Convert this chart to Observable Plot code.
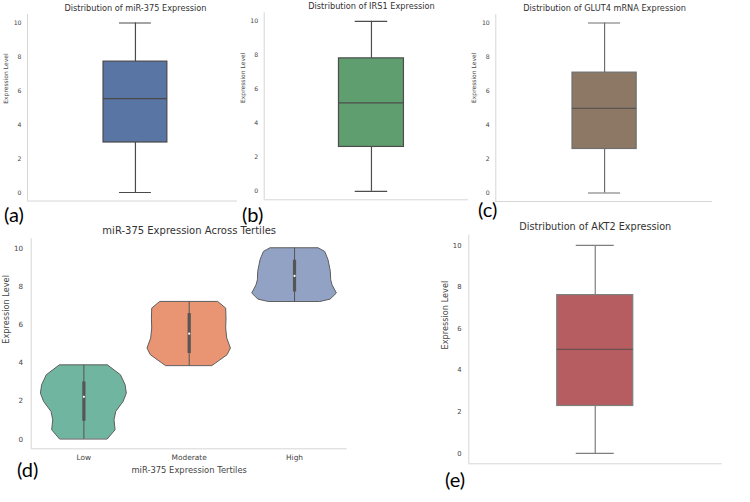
<!DOCTYPE html>
<html>
<head>
<meta charset="utf-8">
<script src="https://cdn.jsdelivr.net/npm/d3@7"></script>
<script src="https://cdn.jsdelivr.net/npm/@observablehq/plot@0.6"></script>
<style>
  body { margin: 0; background: #fff; }
  #fig { position: relative; width: 750px; height: 502px; overflow: hidden; background: #fff; font-family: "DejaVu Sans", sans-serif; }
  .panel { position: absolute; }
  .tag { position: absolute; font-family: Lato, "Open Sans", sans-serif; font-size: 20px; line-height: 20px; color: #000; white-space: nowrap; }
</style>
</head>
<body>
<div id="fig"></div>
<script>
// ---------------- data ----------------
const boxTitles = [
  "Distribution of miR-375 Expression",
  "Distribution of IRS1 Expression",
  "Distribution of GLUT4 mRNA Expression",
  "Distribution of AKT2 Expression"
];
const boxMin    = [0, 0, 0, 0];
const boxQ1     = [2.95, 2.61, 2.59, 2.28];
const boxMedian = [5.54, 5.20, 4.98, 5.00];
const boxQ3     = [7.72, 7.82, 7.08, 7.61];
const boxMax    = [10, 10, 10, 10];
const yTicks = [0, 2, 4, 6, 8, 10];
const yLabel = "Expression Level";

const violinTitle = "miR-375 Expression Across Tertiles";
const violinXLabel = "miR-375 Expression Tertiles";
const tertiles = ["Low", "Moderate", "High"];
// violin outline: expression level and half-width (density, in category units)
const lowLevels   = [0, 0.47, 0.99, 1.43, 1.95, 2.39, 2.83, 3.35, 3.87];
const lowDensity  = [0.228, 0.301, 0.291, 0.307, 0.377, 0.408, 0.396, 0.352, 0.228];
const modLevels   = [3.84, 3.96, 4.40, 4.75, 5.27, 5.80, 6.32, 6.84, 7.19];
const modDensity  = [0.222, 0.253, 0.364, 0.396, 0.361, 0.351, 0.354, 0.351, 0.275];
const highLevels  = [7.19, 7.31, 7.63, 8.06, 8.32, 8.76, 9.37, 9.81, 10.0];
const highDensity = [0.247, 0.342, 0.402, 0.361, 0.348, 0.345, 0.323, 0.291, 0.228];
const tertileMin    = [0, 3.84, 7.19];
const tertileQ1     = [0.94, 4.49, 7.71];
const tertileMedian = [2.22, 5.53, 8.55];
const tertileQ3     = [3.00, 6.58, 9.37];
const tertileMax    = [3.87, 7.19, 10.0];

const panelTags = ["(a)", "(b)", "(c)", "(d)", "(e)"];

// ---------------- styles ----------------
const boxColors  = ["#5875a4", "#5f9e6e", "#8d7866", "#b55d60"];
const boxEdges   = ["#4a4a4a", "#4d4d4d", "#6e6e6e", "#7e7e7e"];
const boxMedians = ["#4a4a4a", "#4d4d4d", "#5a5652", "#6a5050"];
const violinColors = ["#6fb59f", "#e99573", "#92a2c4"];
const spine = "#d6d6d6";
const titleColor = "#333";
const textColor = "#444";
const font = "DejaVu Sans";

const fig = document.getElementById("fig");
function place(node, left, top, w, h) {
  const d = document.createElement("div");
  d.className = "panel";
  d.style.left = left + "px"; d.style.top = top + "px";
  d.style.width = w + "px"; d.style.height = h + "px";
  d.appendChild(node);
  fig.appendChild(d);
}

const boxLayouts = [
  {left: 0,   top: 0,   width: 240, height: 215, mL: 27,   mR: 3,    mT: 14,   mB: 14.5, center: 0.514, half: 0.152, tickFont: 6.2, titleFont: 8.2, labelFont: 6.0, tickPad: 6,   labelDx: -21,   labelDy: -4,   titleDy: -6},
  {left: 240, top: 0,   width: 236, height: 215, mL: 23.7, mR: 8,    mT: 12.3, mB: 15.7, center: 0.525, half: 0.159, tickFont: 6.2, titleFont: 8.2, labelFont: 6.0, tickPad: 6,   labelDx: -20.7, labelDy: -3.3, titleDy: -6.3},
  {left: 470, top: 0,   width: 280, height: 215, mL: 25.3, mR: 38,   mT: 14,   mB: 14,   center: 0.502, half: 0.148, tickFont: 6.2, titleFont: 8.2, labelFont: 6.0, tickPad: 6,   labelDx: -21.3, labelDy: -5,   titleDy: -6},
  {left: 400, top: 220, width: 350, height: 260, mL: 68.3, mR: 28.3, mT: 14.5, mB: 16.7, center: 0.499, half: 0.150, tickFont: 6.8, titleFont: 9.7, labelFont: 8.2, tickPad: 7.3, labelDx: -23.3, labelDy: 0,    titleDy: -7.8}
];

function boxPanel(i) {
  const o = boxLayouts[i];
  const stats = [{min: boxMin[i], q1: boxQ1[i], median: boxMedian[i], q3: boxQ3[i], max: boxMax[i]}];
  const xd = [-o.center, 1 - o.center];
  const h = o.half, c = o.half / 2, lw = 1.2, edge = boxEdges[i];
  const svg = Plot.plot({
    width: o.width, height: o.height,
    marginLeft: o.mL, marginRight: o.mR, marginTop: o.mT, marginBottom: o.mB,
    x: {domain: xd, axis: null},
    y: {domain: [-0.5, 10.5]},
    style: {fontFamily: font, background: "transparent", overflow: "visible"},
    marks: [
      Plot.ruleX([xd[0]], {stroke: spine, strokeWidth: 1}),
      Plot.ruleY([-0.5], {stroke: spine, strokeWidth: 1}),
      Plot.axisY({ticks: yTicks, tickSize: 0, tickPadding: o.tickPad, fontSize: o.tickFont, color: textColor, label: null}),
      Plot.ruleX(stats, {x: () => 0, y1: "min", y2: "q1", stroke: edge, strokeWidth: lw}),
      Plot.ruleX(stats, {x: () => 0, y1: "q3", y2: "max", stroke: edge, strokeWidth: lw}),
      Plot.ruleY(stats, {y: "min", x1: () => -c, x2: () => c, stroke: edge, strokeWidth: lw}),
      Plot.ruleY(stats, {y: "max", x1: () => -c, x2: () => c, stroke: edge, strokeWidth: lw}),
      Plot.rect(stats, {x1: () => -h, x2: () => h, y1: "q1", y2: "q3", fill: boxColors[i], stroke: edge, strokeWidth: lw}),
      Plot.ruleY(stats, {y: "median", x1: () => -h, x2: () => h, stroke: boxMedians[i], strokeWidth: 1.4}),
      Plot.text([boxTitles[i]], {x: () => 0, frameAnchor: "top", dy: o.titleDy, lineAnchor: "middle", text: d => d, fontSize: o.titleFont, fill: titleColor}),
      Plot.text([yLabel], {frameAnchor: "left", dx: o.labelDx, dy: o.labelDy, rotate: -90, text: d => d, fontSize: o.labelFont, fill: textColor})
    ]
  });
  place(svg, o.left, o.top, o.width, o.height);
}

function violinPanel() {
  const levels = [lowLevels, modLevels, highLevels];
  const dens = [lowDensity, modDensity, highDensity];
  const rows = [];
  levels.forEach((lv, k) => lv.forEach((v, j) => rows.push({tertile: tertiles[k], pos: k, value: v, w: dens[k][j]})));
  const stats = tertiles.map((t, k) => ({tertile: t, pos: k, min: tertileMin[k], q1: tertileQ1[k], median: tertileMedian[k], q3: tertileQ3[k], max: tertileMax[k]}));
  const inner = "#555";
  const svg = Plot.plot({
    width: 400, height: 260,
    marginLeft: 30.7, marginRight: 53.3, marginTop: 18.2, marginBottom: 31.7,
    x: {domain: [-0.5, 2.5]},
    y: {domain: [-0.5, 10.5]},
    color: {domain: tertiles, range: violinColors},
    style: {fontFamily: font, background: "transparent", overflow: "visible"},
    marks: [
      Plot.ruleX([-0.5], {stroke: spine, strokeWidth: 1}),
      Plot.ruleY([-0.5], {stroke: spine, strokeWidth: 1}),
      Plot.areaX(rows, {y: "value", x1: d => d.pos - d.w, x2: d => d.pos + d.w, z: "tertile", fill: "tertile", stroke: "#5e5e5e", strokeWidth: 1}),
      Plot.ruleX(stats, {x: "pos", y1: "min", y2: "max", stroke: inner, strokeWidth: 1}),
      Plot.ruleX(stats, {x: "pos", y1: "q1", y2: "q3", stroke: inner, strokeWidth: 3.2}),
      Plot.dot(stats, {x: "pos", y: "median", r: 1.1, fill: "white", stroke: null}),
      Plot.axisY({ticks: yTicks, tickSize: 0, tickPadding: 8, fontSize: 7.2, color: textColor, label: null}),
      Plot.axisX({ticks: [0, 1, 2], tickFormat: k => tertiles[k], tickSize: 0, tickPadding: 6, fontSize: 7.4, color: textColor, label: null}),
      Plot.text([violinTitle], {frameAnchor: "top", dy: -7.5, lineAnchor: "middle", text: d => d, fontSize: 10, fill: titleColor}),
      Plot.text([violinXLabel], {frameAnchor: "bottom", dy: 21, lineAnchor: "middle", text: d => d, fontSize: 8.4, fill: textColor}),
      Plot.text([yLabel], {frameAnchor: "left", dx: -25, rotate: -90, text: d => d, fontSize: 8.2, fill: textColor})
    ]
  });
  place(svg, 0, 220, 400, 260);
}

[0, 1, 2].forEach(boxPanel);
violinPanel();
boxPanel(3);

const tagPos = [[4, 204], [242, 204], [478, 199], [17, 459], [445, 469]];
panelTags.forEach((t, k) => {
  const d = document.createElement("div");
  d.className = "tag";
  d.textContent = t;
  d.style.left = tagPos[k][0] + "px";
  d.style.top = tagPos[k][1] + "px";
  fig.appendChild(d);
});
</script>
</body>
</html>
